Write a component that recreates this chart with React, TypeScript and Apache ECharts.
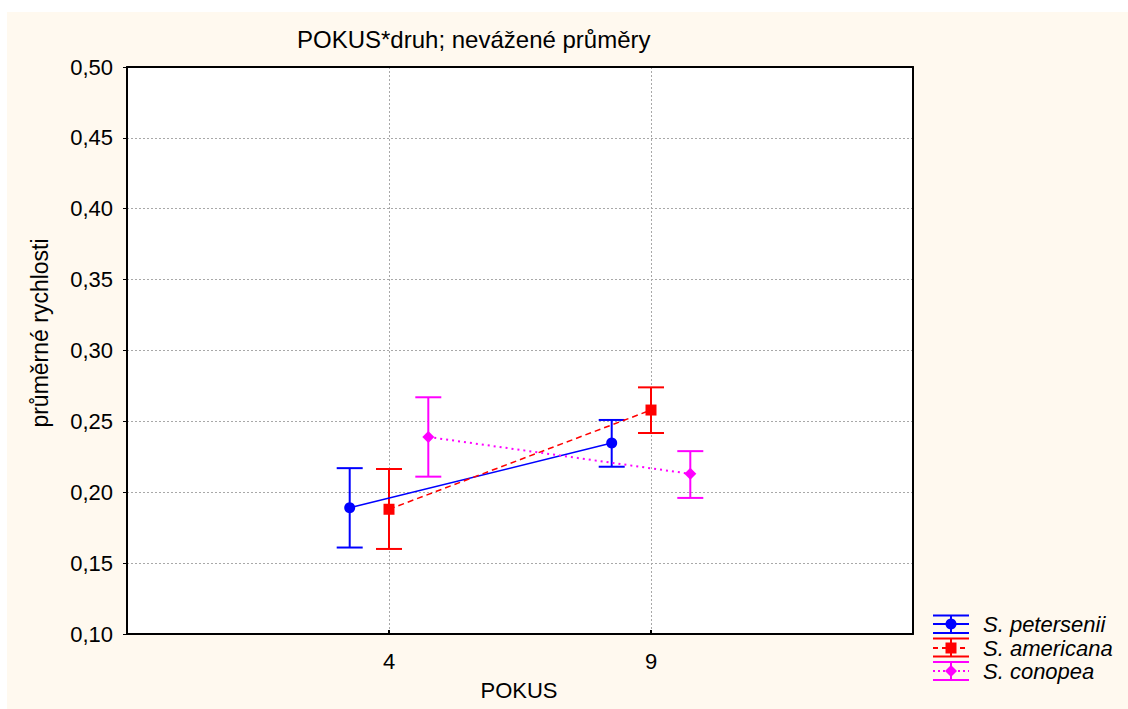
import React, { useEffect, useRef } from "react";
import * as echarts from "echarts";

const pokusLabels = ["4", "9"];
const speciesNames = ["S. petersenii", "S. americana", "S. conopea"];
const speciesColors = ["#0000FF", "#FF0000", "#FF00FF"];

const peterseniiMean = [0.189, 0.2347];
const peterseniiLow = [0.161, 0.218];
const peterseniiHigh = [0.217, 0.251];

const americanaMean = [0.188, 0.258];
const americanaLow = [0.16, 0.2418];
const americanaHigh = [0.2164, 0.274];

const conopeaMean = [0.239, 0.213];
const conopeaLow = [0.211, 0.196];
const conopeaHigh = [0.267, 0.229];

const yTicksMin = 0.1;
const yTicksMax = 0.5;
const yTickStep = 0.05;

const FONT = "Liberation Sans, Arial, sans-serif";

export default function App() {
  const ref = useRef<HTMLDivElement>(null);
  useEffect(() => {
    if (!ref.current) return;
    const chart = echarts.init(ref.current, undefined, { renderer: "svg" });

    const means = [peterseniiMean, americanaMean, conopeaMean];
    const lows = [peterseniiLow, americanaLow, conopeaLow];
    const highs = [peterseniiHigh, americanaHigh, conopeaHigh];
    const offsets = [-0.15, 0, 0.15];
    const symbols = ["circle", "rect", "diamond"];
    const lineTypes: any[] = ["solid", [6, 4], [2, 4]];

    const series: any[] = [];
    speciesNames.forEach((name, s) => {
      const pts = pokusLabels.map((_, i) => [i + 1 + offsets[s], means[s][i]]);
      const bars = pokusLabels.map((_, i) => [
        i + 1 + offsets[s],
        lows[s][i],
        highs[s][i],
      ]);
      series.push({
        type: "custom",
        name: name + " err",
        z: 3,
        silent: true,
        data: bars,
        renderItem: (params: any, api: any) => {
          const x = api.value(0);
          const lo = api.coord([x, api.value(1)]);
          const hi = api.coord([x, api.value(2)]);
          const hw = 13;
          const st = { stroke: speciesColors[s], lineWidth: 2 };
          return {
            type: "group",
            children: [
              { type: "line", shape: { x1: lo[0], y1: lo[1], x2: hi[0], y2: hi[1] }, style: st },
              { type: "line", shape: { x1: lo[0] - hw, y1: lo[1], x2: lo[0] + hw, y2: lo[1] }, style: st },
              { type: "line", shape: { x1: hi[0] - hw, y1: hi[1], x2: hi[0] + hw, y2: hi[1] }, style: st },
            ],
          };
        },
      });
      series.push({
        type: "line",
        name,
        z: 4,
        data: pts,
        symbol: symbols[s],
        symbolSize: s === 2 ? 12 : 11,
        showSymbol: true,
        lineStyle: { color: speciesColors[s], width: s === 2 ? 2 : 1.5, type: lineTypes[s] },
        itemStyle: { color: speciesColors[s] },
      });
    });

    // legend graphics
    const legendRows = [624, 648, 671];
    const capOffsets = [[-8.5, 9], [-9.5, 8.5], [-9, 9]];
    const legendGraphics: any[] = [];
    speciesNames.forEach((name, s) => {
      const cy = legendRows[s];
      const c = speciesColors[s];
      const x1 = 933;
      const x2 = 969;
      const xm = 951;
      const top = cy + capOffsets[s][0];
      const bot = cy + capOffsets[s][1];
      legendGraphics.push(
        { type: "line", shape: { x1, y1: top, x2, y2: top }, style: { stroke: c, lineWidth: 2 } },
        { type: "line", shape: { x1, y1: bot, x2, y2: bot }, style: { stroke: c, lineWidth: 2 } },
        { type: "line", shape: { x1: xm, y1: top, x2: xm, y2: bot }, style: { stroke: c, lineWidth: 2 } },
        {
          type: "line",
          shape: { x1, y1: cy, x2, y2: cy },
          style: { stroke: c, lineWidth: 2, lineDash: s === 0 ? null : s === 1 ? [5, 4] : [2, 3] },
        }
      );
      if (s === 0) legendGraphics.push({ type: "circle", shape: { cx: xm, cy, r: 5.5 }, style: { fill: c } });
      if (s === 1) legendGraphics.push({ type: "rect", shape: { x: xm - 5.5, y: cy - 5.5, width: 11, height: 11 }, style: { fill: c } });
      if (s === 2)
        legendGraphics.push({
          type: "polygon",
          shape: { points: [[xm, cy - 6], [xm + 6, cy], [xm, cy + 6], [xm - 6, cy]] },
          style: { fill: c },
        });
      legendGraphics.push({
        type: "text",
        x: 983,
        y: cy,
        style: {
          text: name,
          font: `italic 22px ${FONT}`,
          fill: "#000",
          verticalAlign: "middle",
        },
      });
    });

    const option: any = {
      animation: false,
      backgroundColor: "#FFFFFF",
      graphic: [
        {
          type: "rect",
          z: -10,
          shape: { x: 7, y: 12, width: 1121, height: 697 },
          style: { fill: "#FFF9EF" },
          silent: true,
        },
        {
          type: "rect",
          z: -9,
          shape: { x: 127, y: 67, width: 913 - 127, height: 634 - 67 },
          style: { fill: "#FFFFFF" },
          silent: true,
        },
        {
          type: "text",
          x: 297,
          y: 39,
          style: {
            text: "POKUS*druh; nevážené průměry",
            font: `24px ${FONT}`,
            fill: "#000",
            verticalAlign: "middle",
          },
        },
        {
          type: "text",
          x: 40,
          y: 333,
          rotation: Math.PI / 2,
          style: {
            text: "průměrné rychlosti",
            font: `23px ${FONT}`,
            fill: "#000",
            align: "center",
            verticalAlign: "middle",
          },
        },
        {
          type: "text",
          x: 519,
          y: 690,
          style: {
            text: "POKUS",
            font: `22px ${FONT}`,
            fill: "#000",
            align: "center",
            verticalAlign: "middle",
          },
        },
        ...legendGraphics,
      ],
      grid: {
        left: 127,
        top: 67,
        right: 1128 - 913,
        bottom: 709 - 634,
        show: false,
      },
      xAxis: [
        {
          type: "value",
          min: 0,
          max: 3,
          interval: 1,
          axisLine: { show: true, onZero: false, lineStyle: { color: "#000", width: 2 } },
          axisTick: { show: true, inside: true, length: 4, lineStyle: { color: "#000", width: 2 } },
          axisLabel: {
            formatter: (v: number) => (v >= 1 && v <= pokusLabels.length ? pokusLabels[v - 1] : ""),
            fontFamily: FONT,
            fontSize: 22,
            color: "#000",
            margin: 16,
          },
          splitLine: { show: true, lineStyle: { color: "#A8A8A8", type: [2, 2], width: 1 } },
        },
        {
          type: "value",
          position: "top",
          min: 0,
          max: 3,
          interval: 1,
          axisLine: { show: true, onZero: false, lineStyle: { color: "#000", width: 2 } },
          axisTick: { show: false },
          axisLabel: { show: false },
          splitLine: { show: false },
        },
      ],
      yAxis: [
        {
          type: "value",
          min: yTicksMin,
          max: yTicksMax,
          interval: yTickStep,
          axisLine: { show: true, onZero: false, lineStyle: { color: "#000", width: 2 } },
          axisTick: { show: true, inside: false, length: 4, lineStyle: { color: "#000", width: 1 } },
          axisLabel: {
            formatter: (v: number) => v.toFixed(2).replace(".", ","),
            fontFamily: FONT,
            fontSize: 22,
            color: "#000",
            margin: 14,
          },
          splitLine: { show: true, lineStyle: { color: "#A8A8A8", type: [2, 2], width: 1 } },
        },
        {
          type: "value",
          position: "right",
          min: yTicksMin,
          max: yTicksMax,
          interval: yTickStep,
          axisLine: { show: true, onZero: false, lineStyle: { color: "#000", width: 2 } },
          axisTick: { show: false },
          axisLabel: { show: false },
          splitLine: { show: false },
        },
      ],
      series,
    };
    chart.setOption(option);
    return () => chart.dispose();
  }, []);

  return (
    <div
      ref={ref}
      style={{ position: "fixed", left: 0, top: 0, width: 1128, height: 709 }}
    />
  );
}
